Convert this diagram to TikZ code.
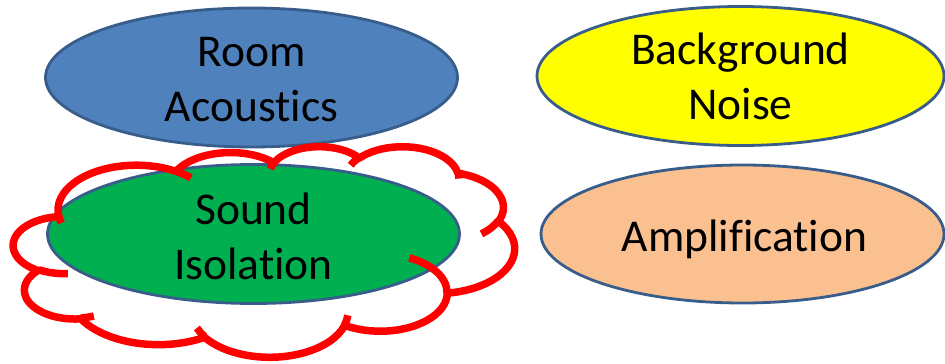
\documentclass[tikz,border=0pt]{standalone}
\usepackage{fontspec}
\setmainfont{Carlito}[Ligatures=NoCommon]
\usetikzlibrary{shapes.geometric}
\definecolor{roomblue}{HTML}{4F81BD}
\definecolor{edgeblue}{HTML}{385D8A}
\definecolor{noiseyellow}{HTML}{FFFF00}
\definecolor{isogreen}{HTML}{00B050}
\definecolor{amporange}{HTML}{FAC090}
% OOXML-style arcTo: wR, hR, visual start angle, visual sweep (degrees)
\newcommand\ooarc[4]{arc[x radius=#1, y radius=#2,
  start angle={atan2((#1)*sin(#3),(#2)*cos(#3))},
  delta angle={mod(atan2((#1)*sin((#3)+(#4)),(#2)*cos((#3)+(#4)))-atan2((#1)*sin(#3),(#2)*cos(#3))-(#4)+900,360)-180+(#4)}]}
\begin{document}
\begin{tikzpicture}[x=1pt,y=-1pt,
  bub/.style={ellipse, draw=edgeblue, line width=2.8pt, inner sep=0pt,
    minimum width=412pt, minimum height=139pt},
  txt/.style={inner sep=0pt, align=center, font=\fontsize{45.5}{55}\selectfont},
  cloudline/.style={draw=red, line width=7.5pt, line join=round}]
\useasboundingbox (0,0) rectangle (945,364);
\node[bub, fill=roomblue] (room) at (251.5,77.5) {};
\node[bub, fill=noiseyellow, minimum width=407pt] (noise) at (740.5,76) {};
\node[bub, fill=amporange, minimum width=403pt, minimum height=138pt] (amp) at (742.5,234) {};
\node[bub, fill=isogreen] (iso) at (253.5,234) {};
\node[txt, yshift=-2pt] (roomtxt) at (room) {Room\\Acoustics};
\node[txt, yshift=0pt] (noisetxt) at (noise) {Background\\Noise};
\node[txt, yshift=-5pt, xshift=2pt] (amptxt) at (amp) {Amplification};
\node[txt, yshift=-2pt] (isotxt) at (iso) {Sound\\Isolation};
\begin{scope}[shift={(13.5,146)}, x=1.15972pt, y=-0.48727pt]
\draw[cloudline] (39.00,143.70)
  \ooarc{67.53}{91.90}{-190.48748}{123.78053}
  \ooarc{53.33}{72.67}{-144.10238}{89.94523}
  \ooarc{43.65}{59.45}{-145.80792}{99.72302}
  \ooarc{48.57}{65.95}{-130.98607}{117.24173}
  \ooarc{53.33}{72.73}{-78.70888}{109.02692}
  \ooarc{67.75}{92.20}{-46.26725}{130.269}
  \ooarc{57.85}{78.67}{0.62502}{114.03333}
  \ooarc{67.52}{92.15}{22.4516}{115.17255}
  \ooarc{77.20}{105.43}{66.24263}{75.71102}
  \ooarc{43.60}{59.18}{-274.94208}{146.73557}
  \ooarc{43.45}{59.45}{-246.8285}{152.51885}
  -- cycle;
\draw[cloudline] (46.93,261.77) \ooarc{43.45}{59.45}{86.742}{26.4295};
\draw[cloudline] (69.28,348.99) \ooarc{43.60}{59.18}{73.61047}{11.44747};
\draw[cloudline] (164.78,390.90) \ooarc{67.52}{92.15}{137.62415}{14.0811};
\draw[cloudline] (288.27,347.51) \ooarc{67.52}{92.15}{6.45327}{15.99835};
\draw[cloudline] (341.29,229.54) \ooarc{57.85}{78.67}{-70.29235}{70.91737};
\draw[cloudline] (417.98,153.54) \ooarc{53.33}{72.73}{30.31803}{27.7515};
\draw[cloudline] (383.24,54.26) \ooarc{48.57}{65.95}{-13.74433}{14.8589};
\draw[cloudline] (290.78,39.52) \ooarc{48.57}{65.95}{-149.18145}{18.19537};
\draw[cloudline] (221.41,47.20) \ooarc{43.65}{59.45}{-163.49427}{17.68635};
\draw[cloudline] (140.00,51.92) \ooarc{67.53}{91.90}{-66.70695}{12.31935};
\draw[cloudline] (41.27,157.89) \ooarc{67.53}{91.90}{157.65435}{11.85817};
\end{scope}
\end{tikzpicture}
\end{document}
